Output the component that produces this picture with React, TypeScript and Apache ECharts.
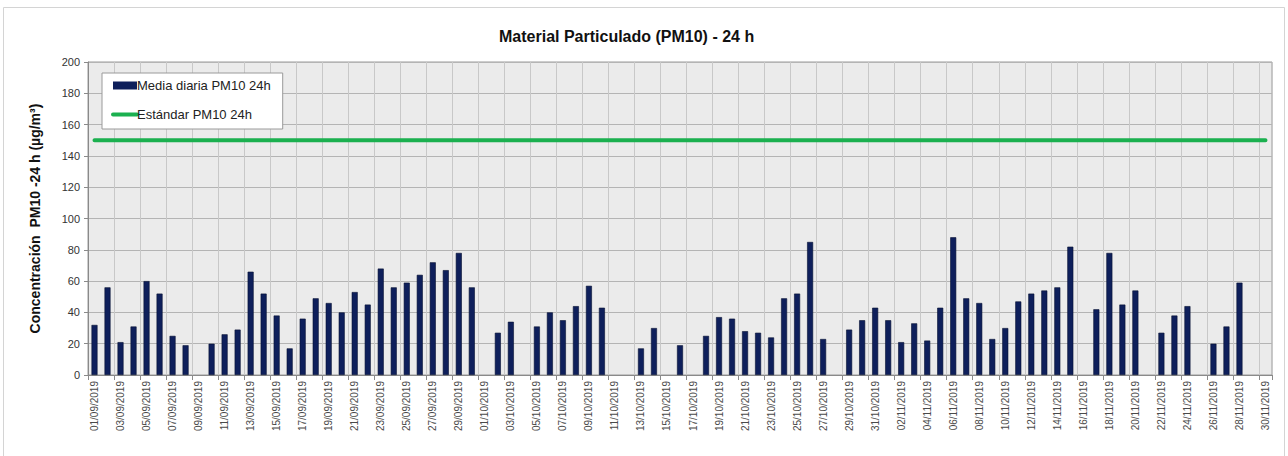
import React, { useEffect, useRef } from "react";
import * as echarts from "echarts";

const dates: string[] = [
  "01/09/2019","02/09/2019","03/09/2019","04/09/2019","05/09/2019","06/09/2019","07/09/2019","08/09/2019","09/09/2019","10/09/2019",
  "11/09/2019","12/09/2019","13/09/2019","14/09/2019","15/09/2019","16/09/2019","17/09/2019","18/09/2019","19/09/2019","20/09/2019",
  "21/09/2019","22/09/2019","23/09/2019","24/09/2019","25/09/2019","26/09/2019","27/09/2019","28/09/2019","29/09/2019","30/09/2019",
  "01/10/2019","02/10/2019","03/10/2019","04/10/2019","05/10/2019","06/10/2019","07/10/2019","08/10/2019","09/10/2019","10/10/2019",
  "11/10/2019","12/10/2019","13/10/2019","14/10/2019","15/10/2019","16/10/2019","17/10/2019","18/10/2019","19/10/2019","20/10/2019",
  "21/10/2019","22/10/2019","23/10/2019","24/10/2019","25/10/2019","26/10/2019","27/10/2019","28/10/2019","29/10/2019","30/10/2019",
  "31/10/2019","01/11/2019","02/11/2019","03/11/2019","04/11/2019","05/11/2019","06/11/2019","07/11/2019","08/11/2019","09/11/2019",
  "10/11/2019","11/11/2019","12/11/2019","13/11/2019","14/11/2019","15/11/2019","16/11/2019","17/11/2019","18/11/2019","19/11/2019",
  "20/11/2019","21/11/2019","22/11/2019","23/11/2019","24/11/2019","25/11/2019","26/11/2019","27/11/2019","28/11/2019","29/11/2019",
  "30/11/2019",
];

const dailyMean: (number | null)[] = [
  32, 56, 21, 31, 60, 52, 25, 19, null, 20,
  26, 29, 66, 52, 38, 17, 36, 49, 46, 40,
  53, 45, 68, 56, 59, 64, 72, 67, 78, 56,
  null, 27, 34, null, 31, 40, 35, 44, 57, 43,
  null, null, 17, 30, null, 19, null, 25, 37, 36,
  28, 27, 24, 49, 52, 85, 23, null, 29, 35,
  43, 35, 21, 33, 22, 43, 88, 49, 46, 23,
  30, 47, 52, 54, 56, 82, null, 42, 78, 45,
  54, null, 27, 38, 44, null, 20, 31, 59, null,
  null,
];

const standard: number[] = [
  150, 150, 150, 150, 150, 150, 150, 150, 150, 150,
  150, 150, 150, 150, 150, 150, 150, 150, 150, 150,
  150, 150, 150, 150, 150, 150, 150, 150, 150, 150,
  150, 150, 150, 150, 150, 150, 150, 150, 150, 150,
  150, 150, 150, 150, 150, 150, 150, 150, 150, 150,
  150, 150, 150, 150, 150, 150, 150, 150, 150, 150,
  150, 150, 150, 150, 150, 150, 150, 150, 150, 150,
  150, 150, 150, 150, 150, 150, 150, 150, 150, 150,
  150, 150, 150, 150, 150, 150, 150, 150, 150, 150,
  150,
];

const titleText = "Material Particulado (PM10) - 24 h";
const yAxisName = "Concentración  PM10 -24 h (µg/m³)";
const barName = "Media diaria PM10 24h";
const lineName = "Estándar PM10 24h";

export default function App() {
  const ref = useRef<HTMLDivElement>(null);

  useEffect(() => {
    if (!ref.current) return;
    const chart = echarts.init(ref.current, undefined, { renderer: "svg" });
    const font = "'Liberation Sans', Arial, sans-serif";
    chart.setOption({
      animation: false,
      backgroundColor: "#ffffff",
      textStyle: { fontFamily: font },
      title: {
        text: titleText,
        left: 494,
        top: 23,
        textStyle: { fontSize: 16, fontWeight: "bold", color: "#111", fontFamily: font },
      },
      graphic: [
        {
          type: "rect",
          silent: true,
          shape: { x: 3.5, y: 7.5, width: 1281, height: 470 },
          style: { fill: "none", stroke: "#d4d4d4", lineWidth: 1 },
          z: -10,
        },
      ],
      legend: {
        orient: "vertical",
        left: 102,
        top: 73,
        backgroundColor: "#ffffff",
        borderColor: "#9a9a9a",
        borderWidth: 1,
        borderRadius: 0,
        padding: [6, 12, 8, 9],
        itemGap: 16,
        itemWidth: 24,
        itemHeight: 8,
        textStyle: { fontSize: 13, color: "#222", fontFamily: font, padding: [0, 0, 0, -5] },
        data: [
          { name: barName, icon: "rect", itemStyle: { borderWidth: 0 } },
          { name: lineName, itemStyle: { opacity: 0 }, lineStyle: { width: 4, color: "#1bb04f", cap: "round" } },
        ],
      },
      grid: {
        left: 88,
        right: 16,
        top: 62,
        bottom: 81,
        show: true,
        backgroundColor: "#ebebeb",
        borderColor: "#9a9a9a",
        borderWidth: 1,
      },
      xAxis: {
        type: "category",
        data: dates,
        boundaryGap: true,
        axisLine: { show: true, lineStyle: { color: "#8a8a8a", width: 1 } },
        axisTick: { show: true, interval: 1, length: 5, lineStyle: { color: "#8a8a8a" } },
        axisLabel: {
          interval: 1,
          rotate: 90,
          fontSize: 10,
          color: "#4a4a4a",
          margin: 6,
          fontFamily: font,
        },
        splitLine: { show: true, interval: 1, lineStyle: { color: "#c8c8c8", width: 1 } },
      },
      yAxis: {
        type: "value",
        min: 0,
        max: 200,
        interval: 20,
        name: yAxisName,
        nameLocation: "middle",
        nameGap: 46,
        nameRotate: 90,
        nameTextStyle: { fontSize: 14, fontWeight: "bold", color: "#111", fontFamily: font },
        axisLine: { show: true, lineStyle: { color: "#8a8a8a", width: 1 } },
        axisTick: { show: true, length: 4, lineStyle: { color: "#8a8a8a" } },
        axisLabel: { fontSize: 11, color: "#333", margin: 8, fontFamily: font },
        splitLine: { show: true, lineStyle: { color: "#b4b4b4", width: 1 } },
      },
      series: [
        {
          name: barName,
          type: "bar",
          data: dailyMean,
          barWidth: 6,
          itemStyle: { color: "#0e1f5b", borderColor: "#061033", borderWidth: 0.6 },
          z: 2,
        },
        {
          name: lineName,
          type: "line",
          data: standard,
          symbol: "none",
          showSymbol: false,
          color: "#1bb04f",
          lineStyle: { color: "#1bb04f", width: 4, cap: "round" },
          z: 3,
        },
      ],
    });
    return () => chart.dispose();
  }, []);

  return (
    <div
      ref={ref}
      style={{ position: "fixed", left: 0, top: 0, width: 1288, height: 456 }}
    />
  );
}
